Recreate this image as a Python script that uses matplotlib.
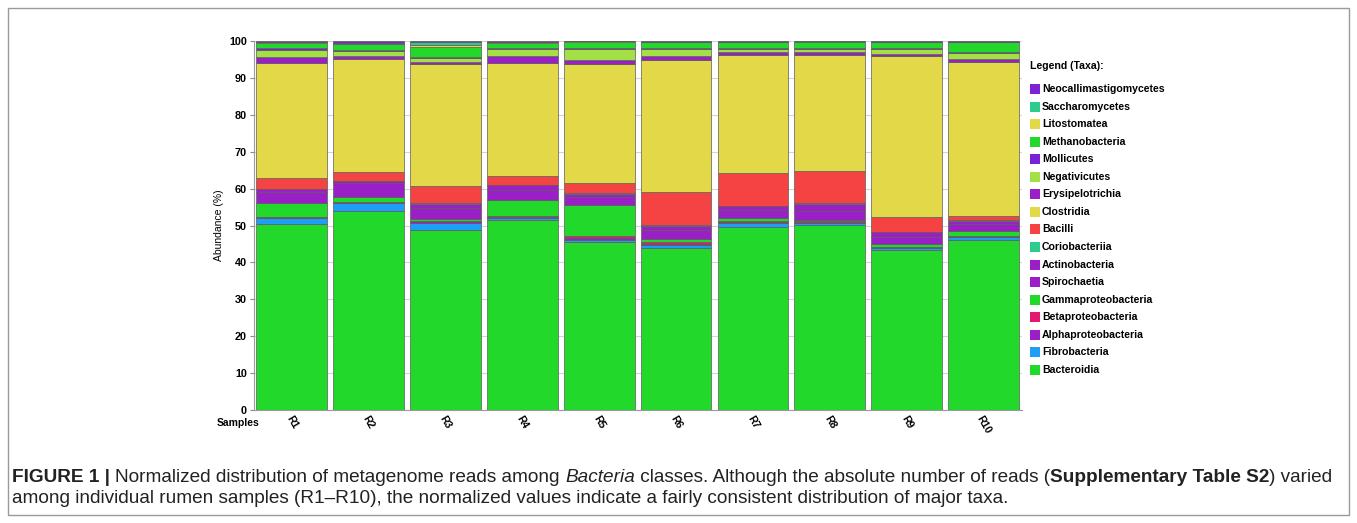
import matplotlib
matplotlib.use("Agg")
import matplotlib.pyplot as plt
from matplotlib.patches import Rectangle
import numpy as np

samples = ['R1', 'R2', 'R3', 'R4', 'R5', 'R6', 'R7', 'R8', 'R9', 'R10']

# taxa, bottom of the stack first
bacteroidia = [50.4, 53.8, 48.8, 51.5, 45.4, 43.8, 49.7, 50.1, 43.3, 46.2]
fibrobacteria = [1.5, 2.4, 1.8, 0.4, 0.7, 1.0, 1.0, 0.6, 0.6, 0.6]
alphaproteobacteria = [0.4, 0.2, 0.5, 0.5, 0.6, 0.3, 0.3, 0.3, 0.3, 0.3]
betaproteobacteria = [0.1, 0.1, 0.1, 0.2, 0.4, 0.3, 0.1, 0.1, 0.1, 0.1]
gammaproteobacteria = [3.6, 1.3, 0.5, 4.3, 8.5, 1.0, 0.9, 0.5, 0.7, 1.2]
spirochaetia = [3.2, 3.6, 3.0, 2.6, 2.0, 2.4, 2.2, 2.4, 2.0, 1.9]
actinobacteria = [0.6, 0.6, 1.2, 1.4, 1.0, 1.2, 1.1, 1.9, 1.2, 1.0]
coriobacteriia = [0.2, 0.1, 0.1, 0.1, 0.3, 0.2, 0.1, 0.1, 0.1, 0.1]
bacilli = [3.0, 2.5, 4.7, 2.5, 2.6, 9.0, 8.9, 8.9, 3.9, 1.2]
clostridia = [31.0, 30.5, 33.0, 30.5, 32.2, 35.7, 32.0, 31.2, 43.7, 41.7]
erysipelotrichia = [1.6, 0.7, 0.6, 1.8, 1.1, 1.0, 0.6, 0.8, 0.7, 0.9]
negativicutes = [2.0, 1.5, 1.1, 2.1, 3.0, 2.0, 0.9, 0.9, 1.1, 1.5]
mollicutes = [0.4, 0.3, 0.3, 0.2, 0.2, 0.3, 0.2, 0.3, 0.3, 0.3]
methanobacteria = [1.4, 1.5, 2.8, 1.3, 1.8, 1.4, 1.6, 1.6, 1.7, 2.7]
litostomatea = [0.2, 0.2, 0.5, 0.2, 0.1, 0.1, 0.1, 0.1, 0.1, 0.1]
saccharomycetes = [0.1, 0.1, 0.6, 0.1, 0.0, 0.1, 0.1, 0.1, 0.0, 0.0]
neocallimastigomycetes = [0.3, 0.6, 0.4, 0.3, 0.1, 0.2, 0.2, 0.1, 0.2, 0.2]

taxa = ['Bacteroidia', 'Fibrobacteria', 'Alphaproteobacteria', 'Betaproteobacteria',
        'Gammaproteobacteria', 'Spirochaetia', 'Actinobacteria', 'Coriobacteriia',
        'Bacilli', 'Clostridia', 'Erysipelotrichia', 'Negativicutes', 'Mollicutes',
        'Methanobacteria', 'Litostomatea', 'Saccharomycetes', 'Neocallimastigomycetes']
values = [bacteroidia, fibrobacteria, alphaproteobacteria, betaproteobacteria,
          gammaproteobacteria, spirochaetia, actinobacteria, coriobacteriia,
          bacilli, clostridia, erysipelotrichia, negativicutes, mollicutes,
          methanobacteria, litostomatea, saccharomycetes, neocallimastigomycetes]
colors = ['#22d92b', '#1e9ff5', '#9a1fc6', '#e2196f',
          '#22d92b', '#9a1fc6', '#9a1fc6', '#2ecb8f',
          '#f54242', '#e3d948', '#9a1fc6', '#a3e046', '#7a22d6',
          '#22d92b', '#e3d948', '#2ecb8f', '#7d22d6']

W, H = 1357, 523
fig = plt.figure(figsize=(W / 100, H / 100), dpi=100)
ax = fig.add_axes([254 / W, 1 - 410 / H, 768 / W, 369 / H])

x = np.arange(len(samples))
bottom = np.zeros(len(samples))
for name, vals, c in zip(taxa, values, colors):
    ax.bar(x, vals, bottom=bottom, width=0.92, color=c, edgecolor='#5c5c5c',
           linewidth=0.5, zorder=3)
    bottom += np.array(vals)

ax.set_xlim(-0.49, 9.5)
ax.set_ylim(0, 100)
ax.set_yticks(range(0, 101, 10))
ax.yaxis.grid(True, color='#d4d4d4', linewidth=0.8, zorder=0)
ax.set_xticks(x)
ax.set_xticklabels(samples, rotation=-60, ha='center', va='top',
                   fontsize=7.5, fontweight='bold', family='Liberation Sans')
ax.tick_params(axis='x', length=0, pad=3)
ax.tick_params(axis='y', length=3, color='#888888', pad=2)
for lab in ax.get_yticklabels():
    lab.set_fontsize(7.8)
    lab.set_fontweight('bold')
    lab.set_family('Liberation Sans')
for s in ['top', 'right']:
    ax.spines[s].set_visible(False)
for s in ['left', 'bottom']:
    ax.spines[s].set_color('#9a9a9a')
ax.set_ylabel('Abundance (%)', fontsize=7.5, family='Liberation Sans', labelpad=4)

fig.text(217 / W, 1 - 423 / H, 'Samples', fontsize=7.5, fontweight='bold',
         family='Liberation Sans', ha='left', va='center')

# legend
fig.text(1030 / W, 1 - 66 / H, 'Legend (Taxa):', fontsize=7.6, fontweight='bold',
         family='Liberation Sans', ha='left', va='center')
for i, (name, c) in enumerate(zip(taxa[::-1], colors[::-1])):
    yc = 89 + i * 17.56
    fig.add_artist(Rectangle((1030 / W, 1 - (yc + 5) / H), 10 / W, 10 / H,
                             transform=fig.transFigure, facecolor=c,
                             edgecolor='none'))
    fig.text(1042 / W, 1 - yc / H, name, fontsize=7.6, fontweight='bold',
             family='Liberation Sans', ha='left', va='center')

# outer frame
fig.add_artist(Rectangle((8 / W, 1 - 515 / H), 1341 / W, 507 / H,
                         transform=fig.transFigure, fill=False,
                         edgecolor='#9a9a9a', linewidth=1))

# caption with mixed styles
cap_font = ['Liberation Sans Narrow', 'Liberation Sans']
line1 = [('FIGURE 1 | ', 'bold', 'normal'),
         ('Normalized distribution of metagenome reads among ', 'normal', 'normal'),
         ('Bacteria', 'normal', 'italic'),
         (' classes. Although the absolute number of reads (', 'normal', 'normal'),
         ('Supplementary Table S2', 'bold', 'normal'),
         (') varied', 'normal', 'normal')]
line2 = [('among individual rumen samples (R1\u2013R10), the normalized values indicate '
          'a fairly consistent distribution of major taxa.', 'normal', 'normal')]

renderer = fig.canvas.get_renderer()


def draw_runs(runs, y, size):
    xpos = 12
    arts = []
    for txt, wt, st in runs:
        t = fig.text(xpos / W, y, txt, fontsize=size, fontweight=wt, fontstyle=st,
                     family=cap_font, ha='left', va='baseline', color='#222222')
        bb = t.get_window_extent(renderer)
        xpos += bb.width
        arts.append(t)
    return xpos - 12, arts


w1, arts = draw_runs(line1, 1 - 482 / H, 11)
for a in arts:
    a.remove()
size = 11 * 1328 / w1
draw_runs(line1, 1 - 482 / H, size)
draw_runs(line2, 1 - 503 / H, size)

fig.savefig('out.png', dpi=100)
